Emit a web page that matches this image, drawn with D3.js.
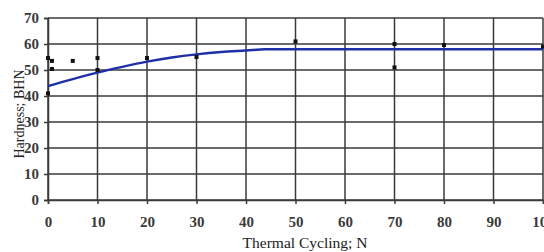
<!DOCTYPE html>
<html><head><meta charset="utf-8">
<script src="https://cdn.jsdelivr.net/npm/d3@7"></script>
<style>body{margin:0;background:#fff}svg{display:block}</style>
</head><body>
<script>
const xTicks = [0,10,20,30,40,50,60,70,80,90,100];
const yTicks = [0,10,20,30,40,50,60,70];
const pointX = [0,0.8,0.8,0,5,10,10,20,30,50,70,70,80,100];
const pointY = [54.6,53.5,50.4,41,53.5,54.6,50,54.6,55,61,60,51,59.6,59];
const fitX = [0,5,10,15,20,25,30,35,40,44,100];
const fitY = [43.8,46.5,49,51.2,53.2,54.8,56,56.9,57.5,58,58];

const W=544,H=252;
const svg=d3.select("body").append("svg").attr("width",W).attr("height",H);
const x=d3.scaleLinear().domain([0,100]).range([48,543]);
const y=d3.scaleLinear().domain([0,70]).range([200,18]);
const grid="#3a3a3a";
const g=svg.append("g");
g.selectAll(".vg").data(xTicks).join("line")
 .attr("x1",d=>x(d)).attr("x2",d=>x(d)).attr("y1",y(0)).attr("y2",y(70))
 .attr("stroke",grid).attr("stroke-width",1.5);
g.selectAll(".hg").data(yTicks).join("line")
 .attr("x1",x(0)).attr("x2",x(100)).attr("y1",d=>y(d)).attr("y2",d=>y(d))
 .attr("stroke",grid).attr("stroke-width",1.5);
const fontF="'Liberation Serif','Times New Roman',serif";
const xa=svg.append("g").attr("transform",`translate(0,${y(0)})`)
 .call(d3.axisBottom(x).tickValues(xTicks).tickSize(4).tickPadding(12));
const ya=svg.append("g").attr("transform",`translate(${x(0)},0)`)
 .call(d3.axisLeft(y).tickValues(yTicks).tickSize(4).tickPadding(5));
[xa,ya].forEach(a=>{
 a.select(".domain").attr("stroke",grid).attr("stroke-width",1.5);
 a.selectAll(".tick line").attr("stroke",grid).attr("stroke-width",1.5);
 a.selectAll("text").attr("font-family",fontF).attr("font-size",15).attr("font-weight","bold").attr("fill","#3a3a3a");
});
svg.append("path").datum(fitX.map((d,i)=>[d,fitY[i]]))
 .attr("d",d3.line().x(d=>x(d[0])).y(d=>y(d[1])).curve(d3.curveMonotoneX))
 .attr("fill","none").attr("stroke","#1f2fa8").attr("stroke-width",2.4);
svg.selectAll(".pt").data(pointX.map((d,i)=>[d,pointY[i]])).join("rect")
 .attr("x",d=>x(d[0])-2).attr("y",d=>y(d[1])-2).attr("width",4).attr("height",4)
 .attr("fill","#111");
svg.append("text").attr("x",305).attr("y",248).attr("text-anchor","middle")
 .attr("font-family",fontF).attr("font-size",15.5).attr("fill","#222").text("Thermal Cycling; N");
svg.append("text").attr("transform","translate(24,114) rotate(-90)").attr("text-anchor","middle")
 .attr("font-family",fontF).attr("font-size",14).attr("fill","#222").text("Hardness; BHN");
</script>
</body></html>
